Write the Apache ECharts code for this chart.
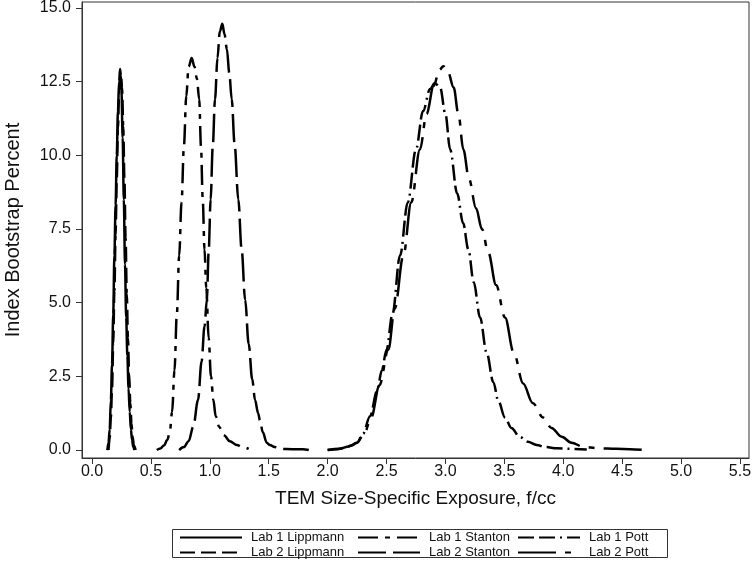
<!DOCTYPE html>
<html>
<head>
<meta charset="utf-8">
<script src="https://cdn.jsdelivr.net/npm/echarts@6/dist/echarts.min.js"></script>
<style>html,body{margin:0;padding:0;background:#fff;}#c{width:756px;height:561px;}</style>
</head>
<body>
<div id="c"></div>
<script>
var xTicks = [0, 0.5, 1, 1.5, 2, 2.5, 3, 3.5, 4, 4.5, 5, 5.5];
var yTicks = [0, 2.5, 5, 7.5, 10, 12.5, 15];
var seriesNames = ['Lab 1 Lippmann', 'Lab 1 Stanton', 'Lab 1 Pott', 'Lab 2 Lippmann', 'Lab 2 Stanton', 'Lab 2 Pott'];

var lab1Lippmann = [[0.13,0.0],[0.14,0.25],[0.15,0.7],[0.16,1.7],[0.17,2.9],[0.18,4.6],[0.19,6.6],[0.20,8.3],[0.21,10.0],[0.22,11.5],[0.23,12.5],[0.238,12.93],[0.245,12.7],[0.25,12.2],[0.26,10.6],[0.27,8.5],[0.28,6.3],[0.29,4.5],[0.30,3.2],[0.31,2.1],[0.32,1.3],[0.33,0.7],[0.34,0.35],[0.35,0.1],[0.36,0.0]];
var lab2Lippmann = [[0.14,0.0],[0.15,0.4],[0.16,1.1],[0.17,2.1],[0.18,3.6],[0.19,5.4],[0.20,7.3],[0.21,9.2],[0.22,10.9],[0.23,12.1],[0.245,12.7],[0.255,12.3],[0.265,11.0],[0.275,9.2],[0.285,7.2],[0.295,5.3],[0.305,3.8],[0.315,2.6],[0.325,1.6],[0.335,0.9],[0.345,0.45],[0.355,0.15],[0.37,0.0]];
var lab1Stanton = [[0.55,0.0],[0.58,0.05],[0.61,0.15],[0.64,0.35],[0.66,0.6],[0.68,1.3],[0.70,2.7],[0.72,4.6],[0.74,6.6],[0.76,8.4],[0.78,10.3],[0.80,12.0],[0.82,13.0],[0.846,13.3],[0.87,13.0],[0.89,12.6],[0.91,11.9],[0.925,10.3],[0.94,8.5],[0.955,6.8],[0.97,5.5],[0.99,3.8],[1.01,2.5],[1.03,1.7],[1.05,1.15],[1.08,0.78],[1.12,0.5],[1.17,0.3],[1.23,0.17],[1.28,0.1],[1.33,0.04]];
var lab2Stanton = [[0.74,0.0],[0.78,0.1],[0.82,0.3],[0.86,0.8],[0.90,1.7],[0.93,3.0],[0.955,4.2],[0.975,5.1],[0.99,6.7],[1.007,8.5],[1.025,10.3],[1.044,11.9],[1.065,13.3],[1.085,14.2],[1.106,14.46],[1.125,14.1],[1.145,13.6],[1.165,12.8],[1.186,11.9],[1.21,10.4],[1.242,8.5],[1.27,6.8],[1.30,5.1],[1.33,3.6],[1.36,2.4],[1.384,1.7],[1.41,1.25],[1.426,1.0],[1.45,0.6],[1.483,0.25],[1.51,0.17],[1.55,0.1],[1.60,0.04],[1.70,0.03],[1.79,0.03],[1.84,0.0]];
var lab1Pott = [[2.00,0.0],[2.08,0.03],[2.15,0.08],[2.20,0.15],[2.25,0.25],[2.30,0.55],[2.36,1.15],[2.42,2.0],[2.46,2.7],[2.50,3.4],[2.55,4.6],[2.615,6.6],[2.68,8.4],[2.75,10.2],[2.81,11.5],[2.87,12.25],[2.91,12.45],[2.955,12.3],[3.00,11.4],[3.04,10.2],[3.10,8.7],[3.15,7.7],[3.195,6.8],[3.24,5.7],[3.294,4.5],[3.35,3.3],[3.407,2.3],[3.45,1.65],[3.506,1.1],[3.56,0.75],[3.63,0.45],[3.70,0.28],[3.775,0.17],[3.85,0.1],[3.945,0.06],[4.05,0.04],[4.20,0.02]];
var lab2Pott = [[2.00,0.0],[2.10,0.04],[2.18,0.12],[2.25,0.25],[2.31,0.55],[2.37,1.1],[2.44,2.2],[2.515,3.4],[2.57,4.8],[2.643,6.6],[2.71,8.4],[2.784,10.2],[2.84,11.4],[2.90,12.35],[2.95,12.9],[2.982,13.02],[3.02,12.85],[3.07,12.3],[3.11,11.4],[3.152,10.2],[3.20,9.2],[3.26,8.2],[3.31,7.5],[3.364,6.7],[3.43,5.6],[3.506,4.5],[3.58,3.3],[3.66,2.26],[3.74,1.6],[3.83,1.1],[3.90,0.75],[3.987,0.45],[4.07,0.25],[4.17,0.11],[4.30,0.06],[4.45,0.04],[4.567,0.03],[4.69,0.0]];

var seriesData = [lab1Lippmann, lab1Stanton, lab1Pott, lab2Lippmann, lab2Stanton, lab2Pott];
var dashes = ['solid', [20, 7, 5, 7], [16, 5, 16, 5, 2, 5], [15, 6], [28, 7], [38, 9, 6, 9]];

var chart = echarts.init(document.getElementById('c'), null, {renderer: 'canvas'});
var font = 'Liberation Sans, Arial, Helvetica, sans-serif';

var series = seriesNames.map(function (n, i) {
  return {
    name: n,
    type: 'line',
    data: seriesData[i],
    symbol: 'none',
    showSymbol: false,
    smooth: 0.35,
    smoothMonotone: 'x',
    lineStyle: {color: '#000', width: 2.5, type: dashes[i]},
    itemStyle: {color: '#000'},
    z: 3
  };
});

function legendCol(names, left) {
  return {
    data: names,
    orient: 'vertical',
    left: left,
    top: 531,
    itemWidth: 62,
    itemHeight: 12,
    itemGap: 2,
    padding: 0,
    selectedMode: false,
    itemStyle: {opacity: 0, borderWidth: 0},
    lineStyle: {opacity: 1},
    textStyle: {fontFamily: font, fontSize: 13, color: '#111', padding: [0, 0, 0, 4]}
  };
}

chart.setOption({
  animation: false,
  backgroundColor: '#fff',
  grid: {left: 82, right: 7, top: 2, bottom: 103, show: true, borderColor: '#333', borderWidth: 1,
    backgroundColor: 'transparent', containLabel: false, outerBoundsMode: 'none'},
  xAxis: {
    type: 'value',
    min: -0.085,
    max: 5.577,
    name: 'TEM Size-Specific Exposure, f/cc',
    nameLocation: 'middle',
    nameGap: 31,
    nameTextStyle: {fontFamily: font, fontSize: 19, color: '#111'},
    axisLine: {show: true, onZero: false, lineStyle: {color: '#333', width: 1}},
    axisTick: {show: true, length: 6, customValues: xTicks, lineStyle: {color: '#333'}},
    axisLabel: {customValues: xTicks, fontFamily: font, fontSize: 16, color: '#111', margin: 6,
      formatter: function (v) { return v.toFixed(1); }},
    splitLine: {show: false}
  },
  yAxis: {
    type: 'value',
    min: -0.27,
    max: 15.2,
    name: 'Index Bootstrap Percent',
    nameLocation: 'middle',
    nameGap: 59,
    nameTextStyle: {fontFamily: font, fontSize: 20, color: '#111'},
    axisLine: {show: true, onZero: false, lineStyle: {color: '#333', width: 1}},
    axisTick: {show: true, length: 6, customValues: yTicks, lineStyle: {color: '#333'}},
    axisLabel: {customValues: yTicks, fontFamily: font, fontSize: 16, color: '#111', margin: 11,
      formatter: function (v) { return v.toFixed(1); }},
    splitLine: {show: false}
  },
  legend: [
    legendCol([seriesNames[0], seriesNames[3]], 179),
    legendCol([seriesNames[1], seriesNames[4]], 357),
    legendCol([seriesNames[2], seriesNames[5]], 517)
  ],
  graphic: [{
    type: 'rect',
    shape: {x: 172.5, y: 529.5, width: 495, height: 28},
    style: {fill: 'none', stroke: '#333', lineWidth: 1},
    silent: true
  }],
  series: series
});
</script>
</body>
</html>
